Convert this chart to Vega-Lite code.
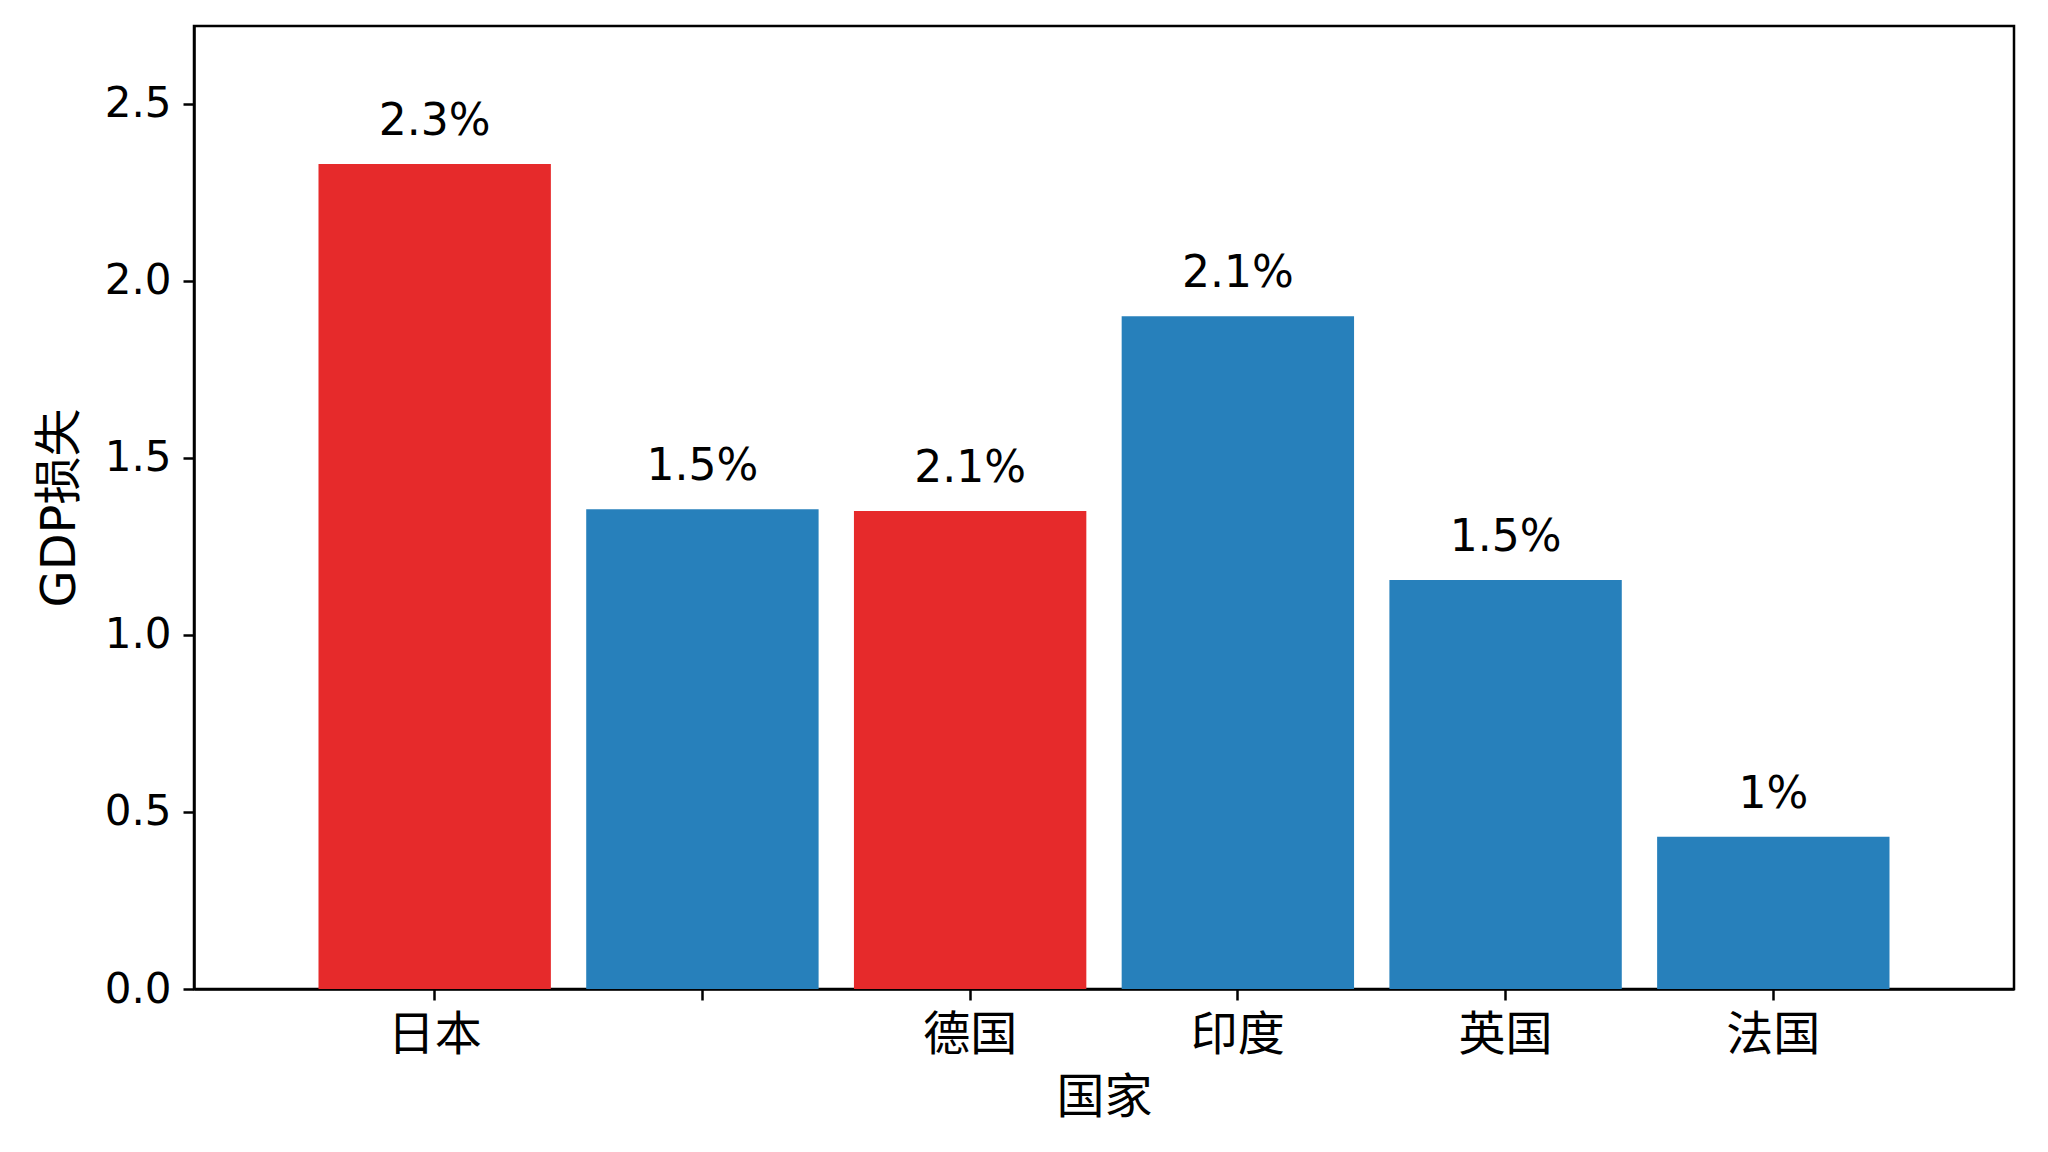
{
  "$schema": "https://vega.github.io/schema/vega-lite/v6.json",
  "width": 1820,
  "height": 963,
  "autosize": {"type": "none"},
  "padding": {"left": 194, "top": 26, "right": 34, "bottom": 163},
  "background": "white",
  "config": {
    "font": "DejaVu Sans, Noto Sans CJK SC",
    "view": {"stroke": "black", "strokeWidth": 2.5},
    "axis": {
      "domainColor": "black",
      "domainWidth": 2.5,
      "tickColor": "black",
      "tickWidth": 2.5,
      "tickSize": 11,
      "labelColor": "black",
      "labelFontSize": 42,
      "titleFontSize": 48,
      "titleFontWeight": "normal",
      "titleColor": "black",
      "grid": false
    }
  },
  "data": {
    "values": [
      {"country": "日本", "loss": 2.33, "label": "2.3%", "group": "red"},
      {"country": " ", "loss": 1.355, "label": "1.5%", "group": "blue"},
      {"country": "德国", "loss": 1.35, "label": "2.1%", "group": "red"},
      {"country": "印度", "loss": 1.9, "label": "2.1%", "group": "blue"},
      {"country": "英国", "loss": 1.155, "label": "1.5%", "group": "blue"},
      {"country": "法国", "loss": 0.43, "label": "1%", "group": "blue"}
    ]
  },
  "encoding": {
    "x": {
      "field": "country",
      "type": "nominal",
      "sort": null,
      "title": "国家",
      "scale": {"paddingInner": 0.132, "paddingOuter": 0.465},
      "axis": {"labelAngle": 0, "labelPadding": 12, "labelFontSize": 47, "titlePadding": 16}
    },
    "y": {
      "field": "loss",
      "type": "quantitative",
      "title": "GDP损失",
      "scale": {"domain": [0, 2.72], "nice": false, "zero": true},
      "axis": {"values": [0, 0.5, 1, 1.5, 2, 2.5], "format": ".1f", "labelPadding": 12, "titlePadding": 20}
    }
  },
  "layer": [
    {
      "mark": {"type": "bar"},
      "encoding": {
        "color": {
          "field": "group",
          "type": "nominal",
          "scale": {"domain": ["red", "blue"], "range": ["#e62a2b", "#2780bb"]},
          "legend": null
        }
      }
    },
    {
      "mark": {"type": "text", "baseline": "bottom", "dy": -20, "fontSize": 44, "color": "black"},
      "encoding": {"text": {"field": "label"}}
    }
  ]
}
